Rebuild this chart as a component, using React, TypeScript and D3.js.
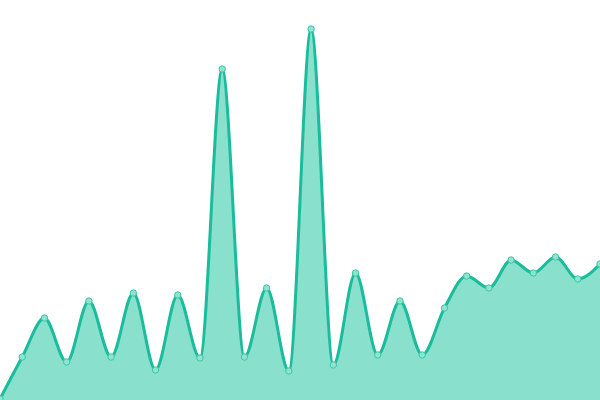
import React from "react";
import * as d3 from "d3";

const W = 600;
const H = 400;

const indices = d3.range(28);
const values = [
  1, 43, 82, 38, 99, 43, 107, 30, 105, 42, 331, 43, 112, 29, 371, 35, 127, 45,
  99, 45, 92, 124, 112, 140, 127, 143, 121, 136,
];

const LINE = "#1abc9c";
const AREA = "#89e0cd";
const DOT_FILL = "#8fe3d1";

export default function App() {
  const x = d3.scaleLinear().domain([0, values.length - 1]).range([0, W]);
  const y = d3.scaleLinear().domain([0, 400]).range([H, 0]);

  const area = d3
    .area<number>()
    .x((_, i) => x(indices[i]))
    .y0(H)
    .y1((d) => y(d))
    .curve(d3.curveMonotoneX);
  const line = d3
    .line<number>()
    .x((_, i) => x(indices[i]))
    .y((d) => y(d))
    .curve(d3.curveMonotoneX);

  return (
    <svg
      width={W}
      height={H}
      style={{ position: "absolute", left: 0, top: 0, display: "block" }}
    >
      <rect width={W} height={H} fill="#ffffff" />
      <path d={area(values) || ""} fill={AREA} />
      <path d={line(values) || ""} fill="none" stroke={LINE} strokeWidth={3} />
      {values.map((v, i) => (
        <circle
          key={i}
          cx={x(indices[i])}
          cy={y(v)}
          r={3.2}
          fill={DOT_FILL}
          stroke="#3cc7a6"
          strokeWidth={1}
        />
      ))}
    </svg>
  );
}
